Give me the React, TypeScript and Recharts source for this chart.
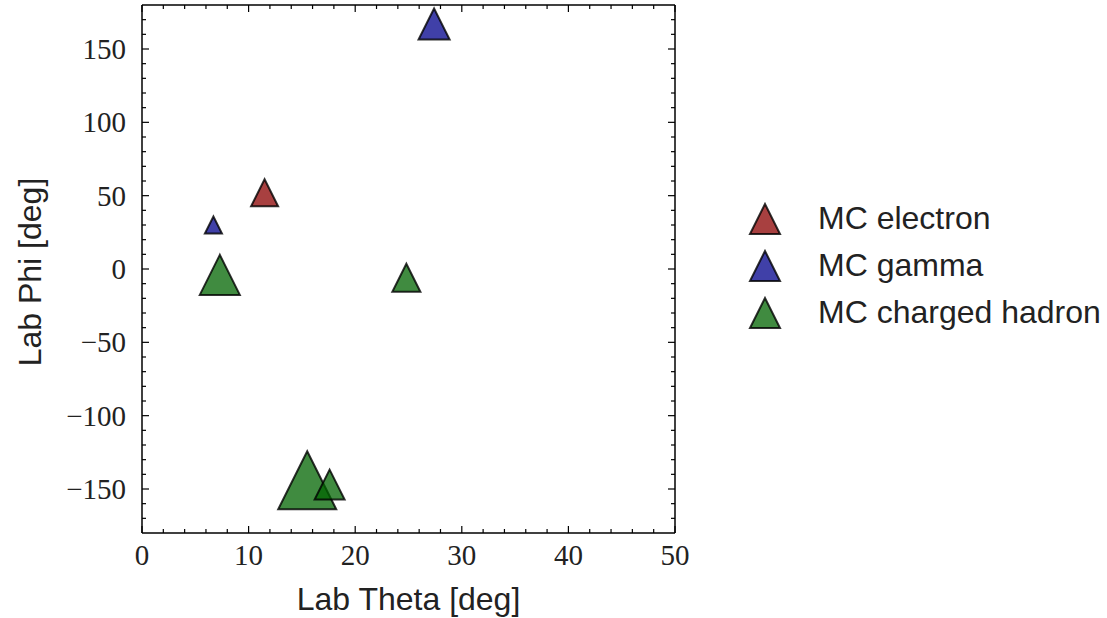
import React from 'react';
import { ScatterChart, Scatter, XAxis, YAxis, ZAxis, Legend, Label } from 'recharts';

// hits: theta, phi in degrees, energy sets marker area
const electronHits = [{ theta: 11.5, phi: 52, energy: 0.65 }];
const gammaHits = [
  { theta: 6.7, phi: 30, energy: 0.26 },
  { theta: 27.4, phi: 167, energy: 0.86 },
];
const hadronHits = [
  { theta: 7.3, phi: -4, energy: 1.43 },
  { theta: 24.8, phi: -6, energy: 0.7 },
  { theta: 15.5, phi: -144, energy: 3.0 },
  { theta: 17.6, phi: -147, energy: 0.8 },
];

const xTicks = [0, 2, 4, 6, 8, 10, 12, 14, 16, 18, 20, 22, 24, 26, 28, 30, 32, 34, 36, 38, 40, 42, 44, 46, 48, 50];
const yTicks = [
  -170, -160, -150, -140, -130, -120, -110, -100, -90, -80, -70, -60, -50, -40, -30, -20, -10, 0,
  10, 20, 30, 40, 50, 60, 70, 80, 90, 100, 110, 120, 130, 140, 150, 160, 170,
];

const series = [
  { name: 'MC electron', data: electronHits, color: '#8b0000' },
  { name: 'MC gamma', data: gammaHits, color: '#00008b' },
  { name: 'MC charged hadron', data: hadronHits, color: '#006400' },
];

const W = 1107;
const H = 618;
const LEFT = 142;
const RIGHT = 675;
const TOP = 5;
const BOTTOM = 533;

const SERIF = '"Liberation Serif", "DejaVu Serif", serif';
const SANS = '"Liberation Sans", Arial, sans-serif';
const fmt = (v: number) => (v < 0 ? '\u2212' + Math.abs(v) : String(v));

const Triangle = ({ cx, cy, width, size, fill }: any) => {
  const w = width ?? 2 * Math.sqrt(size / Math.PI);
  const h = w / 2;
  return (
    <polygon
      points={`${cx},${cy - h} ${cx - h},${cy + h} ${cx + h},${cy + h}`}
      fill={fill}
      fillOpacity={0.75}
      stroke="#000"
      strokeOpacity={0.8}
      strokeWidth={2}
      strokeLinejoin="miter"
    />
  );
};

// inward ticks on bottom + top, label only on majors
const XTick = ({ x, payload }: any) => {
  const major = payload.value % 10 === 0;
  const len = major ? 7 : 4;
  return (
    <g>
      <line x1={x} x2={x} y1={BOTTOM} y2={BOTTOM - len} stroke="#000" strokeWidth={1.2} />
      <line x1={x} x2={x} y1={TOP} y2={TOP + len} stroke="#000" strokeWidth={1.2} />
      {major && (
        <text x={x} y={BOTTOM + 32} textAnchor="middle" fontFamily={SERIF} fontSize={29} fill="#222">
          {fmt(payload.value)}
        </text>
      )}
    </g>
  );
};

// inward ticks on left + right
const YTick = ({ y, payload }: any) => {
  const major = payload.value % 50 === 0;
  const len = major ? 7 : 4;
  return (
    <g>
      <line x1={LEFT} x2={LEFT + len} y1={y} y2={y} stroke="#000" strokeWidth={1.2} />
      <line x1={RIGHT} x2={RIGHT - len} y1={y} y2={y} stroke="#000" strokeWidth={1.2} />
      {major && (
        <text x={LEFT - 16} y={y + 10} textAnchor="end" fontFamily={SERIF} fontSize={29} fill="#222">
          {fmt(payload.value)}
        </text>
      )}
    </g>
  );
};

const XTitle = ({ viewBox }: any) => (
  <text
    x={viewBox.x + viewBox.width / 2}
    y={H - 8}
    textAnchor="middle"
    fontFamily={SANS}
    fontSize={32}
    fill="#222"
  >
    Lab Theta [deg]
  </text>
);

const YTitle = ({ viewBox }: any) => {
  const cx = 30;
  const cy = viewBox.y + viewBox.height / 2 + 3;
  return (
    <text
      x={cx}
      y={cy}
      transform={`rotate(-90 ${cx} ${cy})`}
      textAnchor="middle"
      dominantBaseline="central"
      fontFamily={SANS}
      fontSize={32}
      fill="#222"
    >
      Lab Phi [deg]
    </text>
  );
};

const LegendBox = () => (
  <div style={{ fontFamily: SANS, fontSize: 32, color: '#222' }}>
    {series.map((s) => (
      <div key={s.name} style={{ display: 'flex', alignItems: 'center', height: 47 }}>
        <svg width={40} height={40} style={{ marginRight: 33 }}>
          <polygon
            points="20,5 5,35 35,35"
            fill={s.color}
            fillOpacity={0.75}
            stroke="#000"
            strokeOpacity={0.8}
            strokeWidth={2}
          />
        </svg>
        <span>{s.name}</span>
      </div>
    ))}
  </div>
);

const axisLine = { stroke: '#000', strokeWidth: 1.5 };

export default function App() {
  return (
    <div style={{ position: 'absolute', left: 0, top: 0, background: '#fff' }}>
      <ScatterChart width={W} height={H} margin={{ top: TOP - 1, right: W - RIGHT - 1, bottom: 0, left: 0 }}>
        <XAxis
          type="number"
          dataKey="theta"
          domain={[0, 50]}
          ticks={xTicks}
          interval={0}
          tickSize={0}
          tickMargin={0}
          tickLine={false}
          tick={<XTick />}
          height={H - BOTTOM}
          axisLine={axisLine}
          allowDataOverflow
        >
          <Label content={<XTitle />} />
        </XAxis>
        <XAxis
          xAxisId="top"
          orientation="top"
          type="number"
          domain={[0, 50]}
          tick={false}
          tickLine={false}
          height={1}
          axisLine={axisLine}
          allowDataOverflow
        />
        <YAxis
          type="number"
          dataKey="phi"
          domain={[-180, 180]}
          ticks={yTicks}
          interval={0}
          tickSize={0}
          tickMargin={0}
          tickLine={false}
          tick={<YTick />}
          width={LEFT}
          axisLine={axisLine}
          allowDataOverflow
        >
          <Label content={<YTitle />} />
        </YAxis>
        <YAxis
          yAxisId="right"
          orientation="right"
          type="number"
          domain={[-180, 180]}
          tick={false}
          tickLine={false}
          width={1}
          axisLine={axisLine}
          allowDataOverflow
        />
        <ZAxis type="number" dataKey="energy" domain={[0, 3]} range={[0, 2642]} />
        {series.map((s) => (
          <Scatter
            key={s.name}
            name={s.name}
            data={s.data}
            fill={s.color}
            shape={<Triangle />}
            isAnimationActive={false}
          />
        ))}
        <Legend
          layout="vertical"
          align="center"
          verticalAlign="middle"
          content={<LegendBox />}
          wrapperStyle={{ left: 745, top: 195, width: 360 }}
        />
      </ScatterChart>
    </div>
  );
}
